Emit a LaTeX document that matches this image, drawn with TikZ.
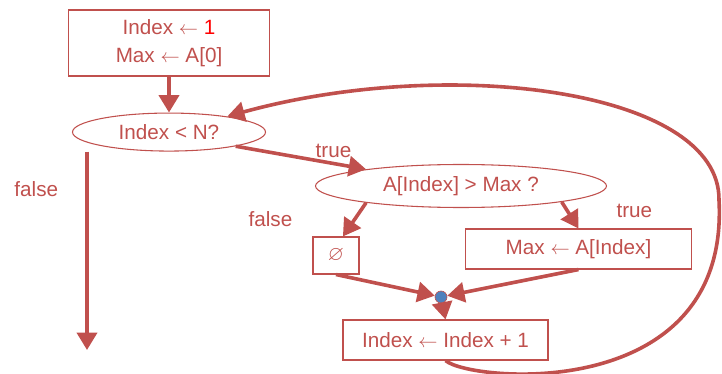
\documentclass[tikz,border=0pt]{standalone}
\usepackage{amssymb}
\usepackage{fontspec}
\setmainfont{Liberation Sans}
\usetikzlibrary{positioning,arrows.meta,shapes.geometric}
\definecolor{flowred}{HTML}{C0504D}
\definecolor{brightred}{HTML}{FF0000}
\definecolor{dotblue}{HTML}{4F81BD}

\begin{document}
\begin{tikzpicture}[
    x=0.75pt, y=-0.75pt,
    every node/.style={text=flowred, font=\fontsize{15.5}{21}\selectfont},
    box/.style={draw=flowred, line width=0.8pt, align=center, inner sep=0pt},
    cond/.style={draw=flowred, line width=0.8pt, ellipse, inner sep=0pt},
    arrow/.style={draw=flowred, line width=2.7pt, -{Triangle[width=15pt,length=13pt]}}
  ]
    \useasboundingbox (0,0) rectangle (722,374);
    % Initialisation
    \node[box, minimum width=150.75pt, minimum height=49.5pt] (init) at (169,43)
      {Index $\leftarrow$ {\color{brightred}1}\\Max $\leftarrow$ A[0]};
    % Loop test
    \node[cond, minimum width=144.75pt, minimum height=28.5pt, below=27pt of init] (test)
      {Index < N?};
    % Body of the loop
    \node[cond, minimum width=218.25pt, minimum height=32.25pt] (cmp) at (461,186)
      {A[Index] > Max ?};
    \node[box, minimum width=34.5pt, minimum height=27.75pt] (keep) at (336,255.5)
      {$\varnothing$};
    \node[box, minimum width=170pt, minimum height=30pt] (upd) at (578.5,249)
      {Max $\leftarrow$ A[Index]};
    \node[circle, fill=dotblue, draw=flowred, line width=0.5pt, minimum size=9pt,
          inner sep=0pt] (join) at (441,297) {};
    \node[box, minimum width=153.75pt, minimum height=30pt] (inc) at (445.5,340)
      {Index $\leftarrow$ Index + 1};
    \coordinate (stop) at (87,350);
    \coordinate (loopr) at (719,200);

    % Arrows
    \draw[arrow] (init.south) -- (test.north);
    \draw[arrow] (test.south -| stop) -- node[pos=0.19, left=17pt]{false} (stop);
    \draw[arrow] (test.-12) -- node[pos=0.75, above]{true} (cmp.170);
    \draw[arrow] (cmp.190) -- node[pos=0.5, left=42pt]{false} (keep.70);
    \draw[arrow] (cmp.-9) -- node[pos=0.35, right=32pt]{true} (upd.north);
    \draw[arrow] (keep.south) -- (join);
    \draw[arrow] (upd.south) -- (join);
    \draw[arrow] (join) -- (inc.north);
    \draw[arrow] (inc.south) .. controls (470,382) and (730,405) .. (loopr)
      .. controls (720,90) and (450,55) .. (test.15);
\end{tikzpicture}
\end{document}
